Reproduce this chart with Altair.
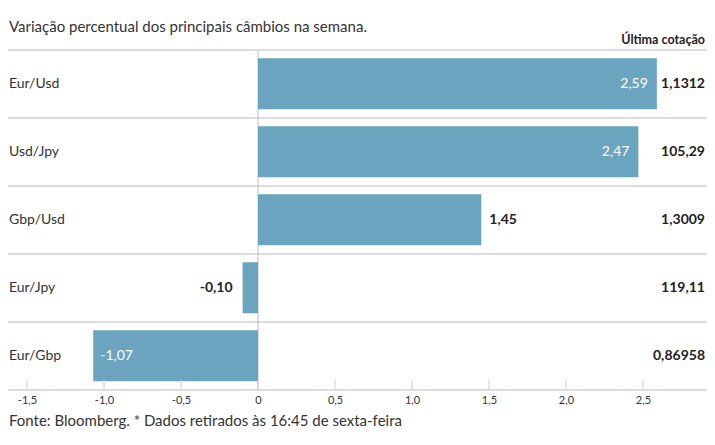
import altair as alt
import pandas as pd

pairs = ["Eur/Usd", "Usd/Jpy", "Gbp/Usd", "Eur/Jpy", "Eur/Gbp"]
changes = [2.59, 2.47, 1.45, -0.10, -1.07]
quotes = ["1,1312", "105,29", "1,3009", "119,11", "0,86958"]
inside_pairs = ["Eur/Usd", "Usd/Jpy", "Eur/Gbp"]
tick_values = [-1.5, -1.0, -0.5, 0, 0.5, 1.0, 1.5, 2.0, 2.5]

subtitle = "Variação percentual dos principais câmbios na semana."
header = "Última cotação"
footer = "Fonte: Bloomberg.  * Dados retirados às 16:45 de sexta-feira"

FONT = "Lato"
W, H = 699, 340
BAR = "#6aa4bf"
LINE = "#d2d2d2"

df = pd.DataFrame({"pair": pairs, "change": changes, "quote": quotes})
df["row"] = range(len(df))
df["top"] = df["row"] + 0.12
df["bot"] = df["row"] + 0.87
df["mid"] = df["row"] + 0.5
df["base0"] = 0.0
df["label"] = [f"{v:.2f}".replace(".", ",") for v in df["change"]]
df["inside"] = df["pair"].isin(inside_pairs)
df["pos"] = df["change"] >= 0

xs = alt.Scale(domain=[-1.6234, 2.9156], nice=False, zero=False)
ys = alt.Scale(domain=[0, 5], reverse=True, nice=False, zero=False)

xaxis = alt.Axis(
    values=tick_values,
    labelExpr="datum.value == 0 ? '0' : replace(replace(format(datum.value, '.1f'), '.', ','), '\u2212', '-')",
    tickSize=0, domain=False, grid=False, labelPadding=4,
    labelFontSize=11, labelColor="#333", labelFont=FONT, title=None,
    labelFlush=False,
)

base = alt.Chart(df)

bounds = pd.DataFrame({"b": [float(i) for i in range(6)]})
rows_rule = alt.Chart(bounds).mark_rule(color=LINE, strokeWidth=1.5).encode(
    y=alt.Y("b:Q", scale=ys, axis=None),
    x=alt.value(0), x2=alt.value(W),
)

zero_df = pd.DataFrame({"z": [0.0], "ya": [0.0], "yb": [5.0]})
zero = alt.Chart(zero_df).mark_rule(color="#bdbdbd", strokeWidth=1).encode(
    x=alt.X("z:Q", scale=xs, axis=xaxis),
    y=alt.Y("ya:Q", scale=ys, axis=None), y2="yb:Q",
)

tick_df = pd.DataFrame({"t": tick_values, "ya": [5.0] * len(tick_values),
                        "yb": [5.0 - 10 / 68] * len(tick_values)})
ticks = alt.Chart(tick_df).mark_rule(color="#cfcfcf", strokeWidth=1).encode(
    x=alt.X("t:Q", scale=xs, axis=xaxis),
    y=alt.Y("ya:Q", scale=ys, axis=None), y2="yb:Q",
)

bars = base.mark_bar(color=BAR).encode(
    x=alt.X("change:Q", scale=xs, axis=xaxis),
    x2="base0:Q",
    y=alt.Y("top:Q", scale=ys, axis=None),
    y2="bot:Q",
)

def val_text(inside, pos, align, dx, color, weight):
    return base.transform_filter(
        f"datum.inside == {str(inside).lower()} && datum.pos == {str(pos).lower()}"
    ).mark_text(align=align, baseline="middle", dx=dx, font=FONT, fontSize=14,
                color=color, fontWeight=weight).encode(
        x=alt.X("change:Q", scale=xs, axis=xaxis),
        y=alt.Y("mid:Q", scale=ys, axis=None),
        text="label:N",
    )

labels = [
    val_text(True, True, "right", -9, "white", "normal"),
    val_text(True, False, "left", 7, "white", "normal"),
    val_text(False, True, "left", 8, "#222", "bold"),
    val_text(False, False, "right", -10, "#222", "bold"),
]

row_names = base.mark_text(align="left", baseline="middle", font=FONT, fontSize=14,
                           color="#333").encode(
    x=alt.value(1), y=alt.Y("mid:Q", scale=ys, axis=None), text="pair:N")

quote_text = base.mark_text(align="right", baseline="middle", font=FONT, fontSize=14,
                            fontWeight="bold", color="#222").encode(
    x=alt.value(W - 2), y=alt.Y("mid:Q", scale=ys, axis=None), text="quote:N")

def note(txt, x, y, size, weight="normal", color="#333", align="left"):
    return alt.Chart(pd.DataFrame({"t": [txt]})).mark_text(
        align=align, baseline="middle", font=FONT, fontSize=size,
        fontWeight=weight, color=color).encode(
        x=alt.value(x), y=alt.value(y), text="t:N")

sub = note(subtitle, 1, -23, 15)
head = note(header, W - 2, -10, 12.5, "bold", "#222", "right")
foot = note(footer, 1, 371, 15)

chart = alt.layer(
    rows_rule, zero, bars, ticks, *labels, row_names, quote_text, sub, head, foot
).properties(
    width=W, height=H,
    padding={"top": 42, "bottom": 40, "left": 0, "right": 0},
    autosize=alt.AutoSizeParams(type="none"),
).configure_view(stroke=None)

chart.save("out.html", embed_options={"renderer": "svg", "actions": False})
